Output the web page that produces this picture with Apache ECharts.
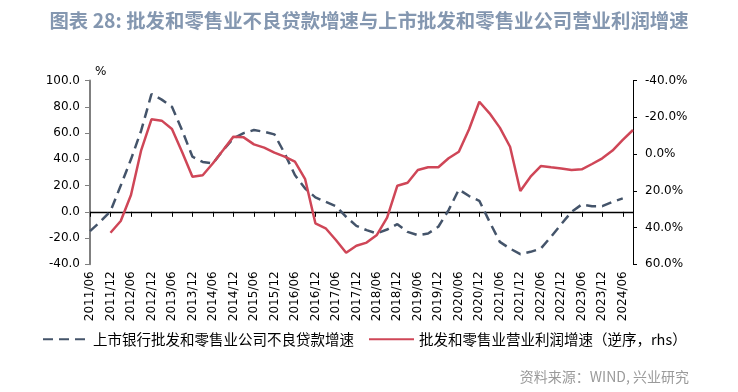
<!DOCTYPE html>
<html>
<head>
<meta charset="utf-8">
<script src="https://cdn.jsdelivr.net/npm/echarts@6/dist/echarts.min.js"></script>
<style>
  html, body { margin: 0; padding: 0; background: #fff; }
  #chart { width: 738px; height: 392px; }
</style>
</head>
<body>
<div id="chart"></div>
<script>
// Quarterly periods
var categories = [
  '2011/06','2011/09','2011/12','2012/03','2012/06','2012/09','2012/12',
  '2013/03','2013/06','2013/09','2013/12','2014/03','2014/06','2014/09','2014/12',
  '2015/03','2015/06','2015/09','2015/12','2016/03','2016/06','2016/09','2016/12',
  '2017/03','2017/06','2017/09','2017/12','2018/03','2018/06','2018/09','2018/12',
  '2019/03','2019/06','2019/09','2019/12','2020/03','2020/06','2020/09','2020/12',
  '2021/03','2021/06','2021/09','2021/12','2022/03','2022/06','2022/09','2022/12',
  '2023/03','2023/06','2023/09','2023/12','2024/03','2024/06','2024/09'
];

// 上市银行批发和零售业公司不良贷款增速 (left axis, %)
var nplGrowth = [
  -14.7, -7.6, 0.5, 20, 40, 62, 89.8,
  85.5, 80, 62, 42, 38, 36.8, 47, 56,
  60, 62.3, 61, 59, 44.5, 28, 17.8, 11,
  7.6, 4.3, -3.8, -10.7, -14, -16.5, -13.5, -9.4,
  -15.3, -17.8, -16.5, -11.4, 1.3, 17, 12, 8.4,
  -7.6, -22.9, -28, -32.3, -30.5, -28, -19, -9.4,
  0, 5.6, 4.3, 4.3, 7.6, 10.2, null
];

// 批发和零售业营业利润增速 (right axis, inverted, %)
var profitGrowth = [
  null, null, 42.8, 36.4, 22.3, -2.2, -18.9,
  -18.2, -13.7, -1, 12.3, 11.5, 5, -2.2, -9.5,
  -9.1, -5.3, -3.5, -0.8, 1.4, 4.1, 13.7, 37.7,
  40.4, 46.8, 53.7, 49.9, 48.2, 44, 34.6, 17.2,
  15.6, 8.7, 7.2, 7.2, 2.3, -1.3, -13.5, -28.5,
  -22.2, -14.4, -4, 20.1, 12.3, 6.5, 7.2, 7.8,
  8.7, 8.3, 5.4, 2.3, -1.9, -7.7, -13.1
];

var leftTicks = { min: -40, max: 100, interval: 20 };
var rightTicks = { min: -40, max: 60, interval: 20 };

var titleText = '图表 28: 批发和零售业不良贷款增速与上市批发和零售业公司营业利润增速';
var sourceText = '资料来源：WIND, 兴业研究';
var seriesNames = ['上市银行批发和零售业公司不良贷款增速', '批发和零售业营业利润增速（逆序，rhs）'];

var axisFont = { fontFamily: 'DejaVu Sans', fontSize: 12, color: '#000' };

var chart = echarts.init(document.getElementById('chart'), null, { renderer: 'canvas' });
chart.setOption({
  animation: false,
  backgroundColor: '#fff',
  title: [{
    text: titleText,
    left: 'center',
    top: 6,
    textStyle: { fontFamily: 'Noto Sans CJK SC', fontWeight: 'bold', fontSize: 19.4, color: '#8497b0' }
  }, {
    text: sourceText,
    right: 44,
    top: 365,
    textStyle: { fontFamily: 'Noto Sans CJK SC', fontWeight: 'normal', fontSize: 14, color: '#9a9a9a' }
  }],
  legend: {
    left: 37,
    top: 327,
    itemWidth: 45,
    itemHeight: 14,
    itemGap: 14,
    itemStyle: { opacity: 0, borderWidth: 0 },
    textStyle: { fontFamily: 'Noto Sans CJK SC', fontSize: 14.5, color: '#000' },
    data: seriesNames
  },
  grid: { left: 90, right: 105, top: 80.6, bottom: 127.7, containLabel: false },
  xAxis: [{
    type: 'category',
    data: categories,
    boundaryGap: false,
    position: 'bottom',
    axisLine: { show: false, onZero: false },
    axisTick: { show: false },
    axisLabel: Object.assign({ rotate: 90, interval: 1, margin: 7 }, axisFont),
    splitLine: { show: false }
  }, {
    type: 'category',
    data: categories,
    boundaryGap: false,
    position: 'bottom',
    axisLine: { show: true, onZero: true, onZeroAxisIndex: 0, lineStyle: { color: '#000', width: 1.3 } },
    axisTick: { show: true, interval: 1, length: 5, lineStyle: { color: '#000', width: 1 } },
    axisLabel: { show: false },
    splitLine: { show: false }
  }],
  yAxis: [{
    type: 'value',
    position: 'left',
    min: leftTicks.min, max: leftTicks.max, interval: leftTicks.interval,
    name: '%',
    nameLocation: 'end',
    nameGap: 3,
    nameTextStyle: { fontFamily: 'DejaVu Sans', fontSize: 12, color: '#000', align: 'left', padding: [0, 0, 0, 5] },
    axisLine: { show: true, onZero: false, lineStyle: { color: '#808080', width: 2 } },
    axisTick: { show: true, length: 5, lineStyle: { color: '#808080', width: 1 } },
    axisLabel: Object.assign({ margin: 10, formatter: function (v) { return v.toFixed(1); } }, axisFont),
    splitLine: { show: false }
  }, {
    type: 'value',
    position: 'right',
    inverse: true,
    min: rightTicks.min, max: rightTicks.max, interval: rightTicks.interval,
    axisLine: { show: true, onZero: false, lineStyle: { color: '#000', width: 1 } },
    axisTick: { show: true, length: 4, lineStyle: { color: '#000', width: 1 } },
    axisLabel: Object.assign({ margin: 12, formatter: function (v) { return v.toFixed(1) + '%'; } }, axisFont),
    splitLine: { show: false }
  }],
  series: [{
    name: seriesNames[0],
    type: 'line',
    xAxisIndex: 0,
    yAxisIndex: 0,
    data: nplGrowth,
    symbol: 'none',
    itemStyle: { color: '#44546a' },
    lineStyle: { color: '#44546a', width: 2.5, type: [10, 6] }
  }, {
    name: seriesNames[1],
    type: 'line',
    xAxisIndex: 0,
    yAxisIndex: 1,
    data: profitGrowth,
    symbol: 'none',
    itemStyle: { color: '#cf4657' },
    lineStyle: { color: '#cf4657', width: 2.5 }
  }]
});
</script>
</body>
</html>
